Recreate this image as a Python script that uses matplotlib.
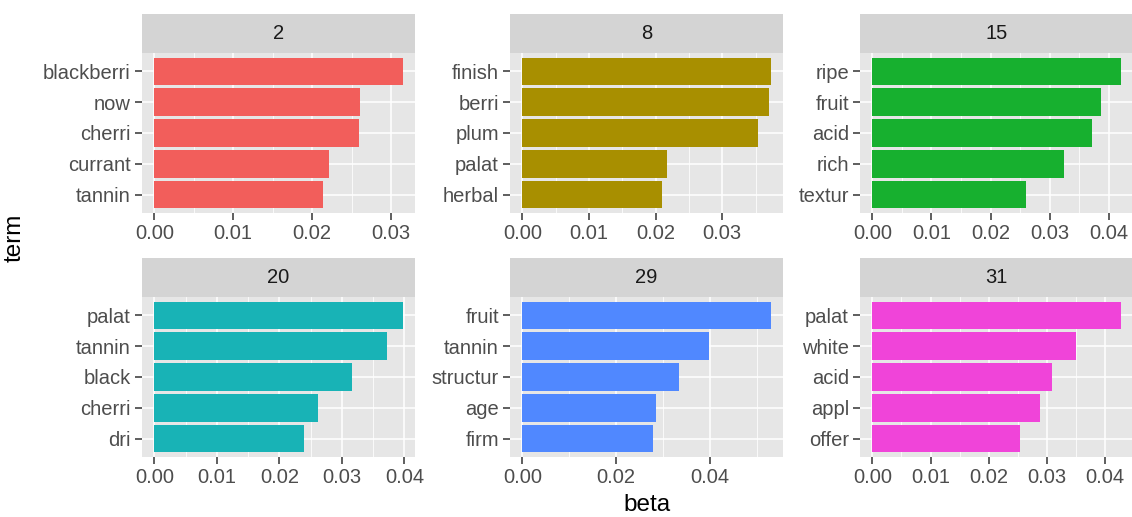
import numpy as np
import matplotlib
matplotlib.use("Agg")
from matplotlib import pyplot as plt
from matplotlib.ticker import MultipleLocator

plt.rcParams['font.family'] = ['Liberation Sans', 'DejaVu Sans']

topics = ['2', '8', '15', '20', '29', '31']
terms = [
    ['blackberri', 'now', 'cherri', 'currant', 'tannin'],
    ['finish', 'berri', 'plum', 'palat', 'herbal'],
    ['ripe', 'fruit', 'acid', 'rich', 'textur'],
    ['palat', 'tannin', 'black', 'cherri', 'dri'],
    ['fruit', 'tannin', 'structur', 'age', 'firm'],
    ['palat', 'white', 'acid', 'appl', 'offer'],
]
betas = [
    [0.03148, 0.02612, 0.02590, 0.02213, 0.02141],
    [0.03725, 0.03696, 0.03542, 0.02169, 0.02090],
    [0.04203, 0.03872, 0.03727, 0.03249, 0.02593],
    [0.03970, 0.03720, 0.03154, 0.02623, 0.02396],
    [0.05300, 0.03983, 0.03346, 0.02858, 0.02781],
    [0.04266, 0.03505, 0.03089, 0.02874, 0.02543],
]
x_steps = [0.01, 0.01, 0.01, 0.01, 0.02, 0.01]
colors = ['#F25E5B', '#A88F00', '#17B02F', '#18B3B6', '#5088FF', '#F044D9']

W, H = 1132, 517
fig = plt.figure(figsize=(W / 100, H / 100), dpi=100)

col_x = [142, 510, 860]
row_y = [(14, 53, 213), (258, 297, 457)]
pw = 273

for i in range(6):
    r, c = divmod(i, 3)
    st, pt, pb = row_y[r]
    x0 = col_x[c]
    ax = fig.add_axes([x0 / W, 1 - pb / H, pw / W, (pb - pt) / H])
    sax = fig.add_axes([x0 / W, 1 - pt / H, pw / W, (pt - st) / H])

    vals = betas[i][::-1]
    labs = terms[i][::-1]
    pos = np.arange(1, 6)
    ax.set_facecolor('#E6E6E6')
    ax.barh(pos, vals, height=0.9, color=colors[i], edgecolor='none', zorder=3)
    mx = max(vals)
    ax.set_xlim(-0.05 * mx, 1.05 * mx)
    ax.set_ylim(0.4, 5.6)
    ax.xaxis.set_major_locator(MultipleLocator(x_steps[i]))
    ax.xaxis.set_minor_locator(MultipleLocator(x_steps[i] / 2))
    ax.set_yticks(pos)
    ax.set_yticklabels(labs)
    fmt = '{:.2f}'
    ax.xaxis.set_major_formatter(plt.FuncFormatter(lambda v, p: fmt.format(v)))
    ax.grid(which='major', color='white', linewidth=1.1, zorder=0)
    ax.grid(which='minor', axis='x', color='white', linewidth=0.55, zorder=0)
    ax.set_axisbelow(True)
    for s in ax.spines.values():
        s.set_visible(False)
    ax.tick_params(axis='both', which='major', length=5, width=1.1, color='#333333',
                   labelcolor='#4D4D4D', labelsize=14.5, pad=3)
    ax.tick_params(axis='x', which='minor', length=0)

    sax.set_facecolor('#D4D4D4')
    sax.set_xticks([])
    sax.set_yticks([])
    for s in sax.spines.values():
        s.set_visible(False)
    sax.text(0.5, 0.5, topics[i], ha='center', va='center', fontsize=14.5,
             color='#1A1A1A', transform=sax.transAxes)

fig.text(647 / W, 1 - 505 / H, 'beta', ha='center', va='center', fontsize=17.5, color='black')
fig.text(15 / W, 1 - 238 / H, 'term', ha='center', va='center', fontsize=17.5,
         color='black', rotation=90)

fig.savefig('out.png', dpi=100, facecolor='white')
